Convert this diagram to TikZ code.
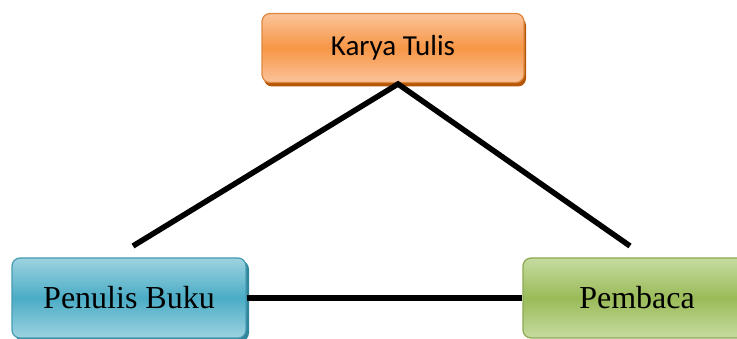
\documentclass[tikz,border=0pt]{standalone}
\usepackage{fontspec}
\setmainfont{Liberation Serif}
\newfontfamily\calibri{Carlito}
\usetikzlibrary{positioning,shadows}
\definecolor{oranje1}{HTML}{F79646}
\definecolor{oranje2}{HTML}{FBC39A}
\definecolor{oranje3}{HTML}{B65708}
\definecolor{biru1}{HTML}{4BACC6}
\definecolor{biru2}{HTML}{9DD3E0}
\definecolor{biru3}{HTML}{31859C}
\definecolor{hijau1}{HTML}{9BBB59}
\definecolor{hijau2}{HTML}{C5DBA0}
\definecolor{hijau3}{HTML}{76923C}

\tikzset{
  kotak/.style={draw, rounded corners=8pt, line width=1.2pt, inner sep=0pt},
  garis/.style={line width=5.5pt, line join=miter}
}

\begin{document}
\begin{tikzpicture}[x=1pt,y=-1pt]
\useasboundingbox (0,0) rectangle (737,339);
\clip (0,0) rectangle (737,339);
% kotak atas
\node[kotak, draw=oranje1!90!black, top color=oranje2, bottom color=oranje2, middle color=oranje1,
  drop shadow={shadow xshift=2pt, shadow yshift=-4pt, fill=oranje3, opacity=1},
  minimum width=262pt, minimum height=69pt, font=\calibri\fontsize{29}{33}\selectfont] (karya) at (393,48) {Karya Tulis};
% kotak bawah
\node[kotak, draw=biru1!90!black, top color=biru2, bottom color=biru2, middle color=biru1,
  drop shadow={shadow xshift=3pt, shadow yshift=-3pt, fill=biru3, opacity=1},
  minimum width=234pt, minimum height=80pt, font=\fontsize{32}{36}\selectfont] (penulis) at (129,298) {Penulis Buku};
\node[kotak, draw=hijau1!90!black, top color=hijau2, bottom color=hijau2, middle color=hijau1,
  minimum width=228pt, minimum height=80pt, font=\fontsize{32}{36}\selectfont] (pembaca) at (637,298) {Pembaca};
% garis
\coordinate (puncak) at (398,84);
\coordinate (kiri) at (133,246);
\coordinate (kanan) at (630,246);
\draw[garis] (kiri) -- (puncak) -- (kanan);
\draw[garis] (penulis.east) -- (pembaca.west);
\end{tikzpicture}
\end{document}
